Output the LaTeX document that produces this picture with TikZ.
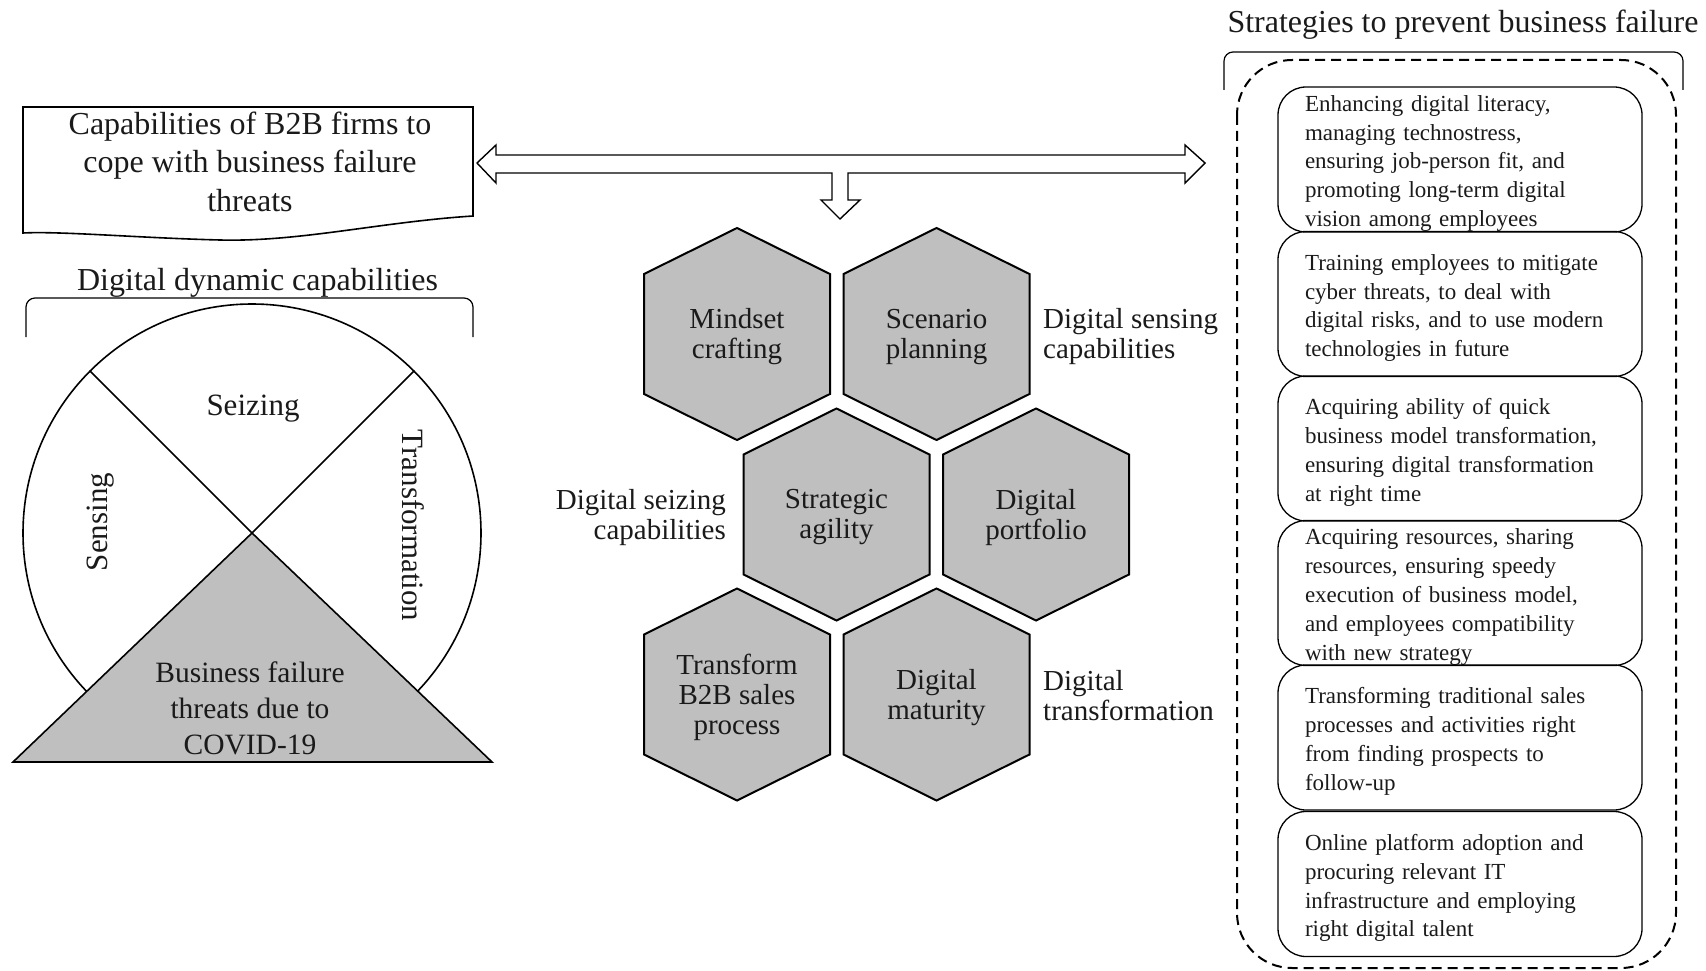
\documentclass[tikz,border=0pt]{standalone}
\usepackage{fontspec}
\setmainfont{Liberation Serif}
\usetikzlibrary{calc}
\definecolor{CellGrey}{HTML}{BFBFBF}
\definecolor{InkBlack}{HTML}{000000}
\definecolor{PaperWhite}{HTML}{FFFFFF}
\definecolor{TextDark}{HTML}{1A1A1A}
\tikzset{
    % Text styles
    heading/.style={
        inner sep=0pt,
        text=TextDark,
        font=\fontsize{32}{36}\selectfont
    },
    captext/.style={
        inner sep=0pt,
        align=center,
        text=TextDark,
        font=\fontsize{32}{38.5}\selectfont
    },
    segtext/.style={
        inner sep=0pt,
        text=TextDark,
        font=\fontsize{31}{36}\selectfont
    },
    threattext/.style={
        inner sep=0pt,
        align=center,
        text=TextDark,
        font=\fontsize{29.5}{36}\selectfont
    },
    hextext/.style={
        inner sep=0pt,
        align=center,
        text=TextDark,
        font=\fontsize{29}{30}\selectfont
    },
    hexlabel/.style={
        inner sep=0pt,
        text=TextDark,
        font=\fontsize{29}{30}\selectfont
    },
    strattext/.style={
        inner sep=0pt,
        text width=310pt,
        align=left,
        text=TextDark,
        font=\fontsize{23}{28.8}\selectfont
    },
    % Shape styles
    docshape/.style={
        draw=InkBlack,
        fill=PaperWhite,
        line width=1.6pt
    },
    dynring/.style={
        circle,
        draw=InkBlack,
        line width=1.6pt,
        minimum size=458pt,
        inner sep=0pt
    },
    threat/.style={
        draw=InkBlack,
        fill=CellGrey,
        line width=1.6pt
    },
    hexcell/.style={
        draw=InkBlack,
        fill=CellGrey,
        line width=2pt,
        line join=miter
    },
    stratbox/.style={
        rectangle,
        draw=InkBlack,
        rounded corners=28pt,
        line width=1.3pt,
        minimum width=364pt,
        minimum height=145pt,
        inner sep=0pt
    },
    % Line styles
    bracket/.style={
        draw=InkBlack,
        line width=1.2pt,
        rounded corners=9pt
    },
    dashedframe/.style={
        draw=InkBlack,
        line width=2pt,
        rounded corners=55pt,
        dash pattern=on 10pt off 6pt
    },
    blockarrow/.style={
        draw=InkBlack,
        fill=PaperWhite,
        line width=1.4pt,
        line join=miter
    }
}
\begin{document}
\begin{tikzpicture}[x=1pt, y=-1pt]
    \useasboundingbox (0,0) rectangle (1706,971);

    % Capabilities box (document shape)
    \draw[docshape] (23,107) -- (473,107) -- (473,216)
        .. controls (380,222) and (300,242) .. (220,240)
        .. controls (140,238) and (60,231) .. (23,233) -- cycle;
    \node[captext] (cap) at (250,161.5) {Capabilities of B2B firms to\\cope with business failure\\threats};

    % Digital dynamic capabilities
    \node[heading, anchor=base] (ddc) at (257.5,290) {Digital dynamic capabilities};
    \draw[bracket] (26,337) -- (26,298) -- (473,298) -- (473,337);
    \node[dynring] (dyn) at (252,533) {};
    \draw[line width=1.6pt] (dyn.135) -- (dyn.center);
    \draw[line width=1.6pt] (dyn.45) -- (dyn.center);
    \draw[threat] (dyn.center) -- (13,762) -- (492,762) -- cycle;
    \node[segtext, anchor=base] (seizing) at (253,415) {Seizing};
    \node[segtext, rotate=90] (sensing) at (101,522) {Sensing};
    \node[segtext, rotate=-90] (transf) at (413,525.5) {Transformation};
    \node[threattext] (covid) at (250,708) {Business failure\\threats due to\\COVID-19};

    % Block arrow
    \draw[blockarrow] (477,163) -- (496,145) -- (496,155) -- (1185,155) -- (1185,145)
        -- (1205,163) -- (1185,183) -- (1185,173) -- (848,173) -- (848,200)
        -- (860,200) -- (840,219) -- (821,200) -- (832,200) -- (832,173)
        -- (496,173) -- (496,183) -- cycle;

    % Hexagons
    \foreach \cx/\cy/\nm/\txt in {737/334/mindset/{Mindset\\crafting},
                                  936.5/334/scenario/{Scenario\\planning},
                                  836.5/514.5/agility/{Strategic\\agility},
                                  1036/514.5/portfolio/{Digital\\portfolio},
                                  737/694.5/salesproc/{Transform\\B2B sales\\process},
                                  936.5/694.5/maturity/{Digital\\maturity}} {
        \draw[hexcell] (\cx,\cy) ++(0,-106) -- ++(93,46) -- ++(0,120) -- ++(-93,46)
            -- ++(-93,-46) -- ++(0,-120) -- cycle;
        \node[hextext] (\nm) at (\cx,\cy+3) {\txt};
    }
    \node[hexlabel, anchor=west, align=left] (sensecap) at (1043,336.5) {Digital sensing\\capabilities};
    \node[hexlabel, anchor=east, align=right] (seizecap) at (726,517.5) {Digital seizing\\capabilities};
    \node[hexlabel, anchor=west, align=left] (transcap) at (1043,695.5) {Digital\\transformation};

    % Strategies to prevent business failure
    \node[heading, anchor=base] (strat) at (1463,33) {Strategies to prevent business failure};
    \draw[bracket] (1224,90) -- (1224,52) -- (1683,52) -- (1683,90);
    \draw[dashedframe] (1237,60) rectangle (1676,968);
    \foreach \yc/\nm/\txt in {159.5/literacy/{Enhancing digital literacy,\\managing technostress,\\ensuring job-person fit, and\\promoting long-term digital\\vision among employees},
                              304/training/{Training employees to mitigate\\cyber threats, to deal with\\digital risks, and to use modern\\technologies in future},
                              448.5/quick/{Acquiring ability of quick\\business model transformation,\\ensuring digital transformation\\at right time},
                              593/resources/{Acquiring resources, sharing\\resources, ensuring speedy\\execution of business model,\\and employees compatibility\\with new strategy},
                              737.5/salesflow/{Transforming traditional sales\\processes and activities right\\from finding prospects to\\follow-up},
                              884/platform/{Online platform adoption and\\procuring relevant IT\\infrastructure and employing\\right digital talent}} {
        \node[stratbox] (\nm) at (1460,\yc) {};
        \node[strattext] (\nm-text) at (1460,\yc+4) {\txt};
    }
\end{tikzpicture}
\end{document}
